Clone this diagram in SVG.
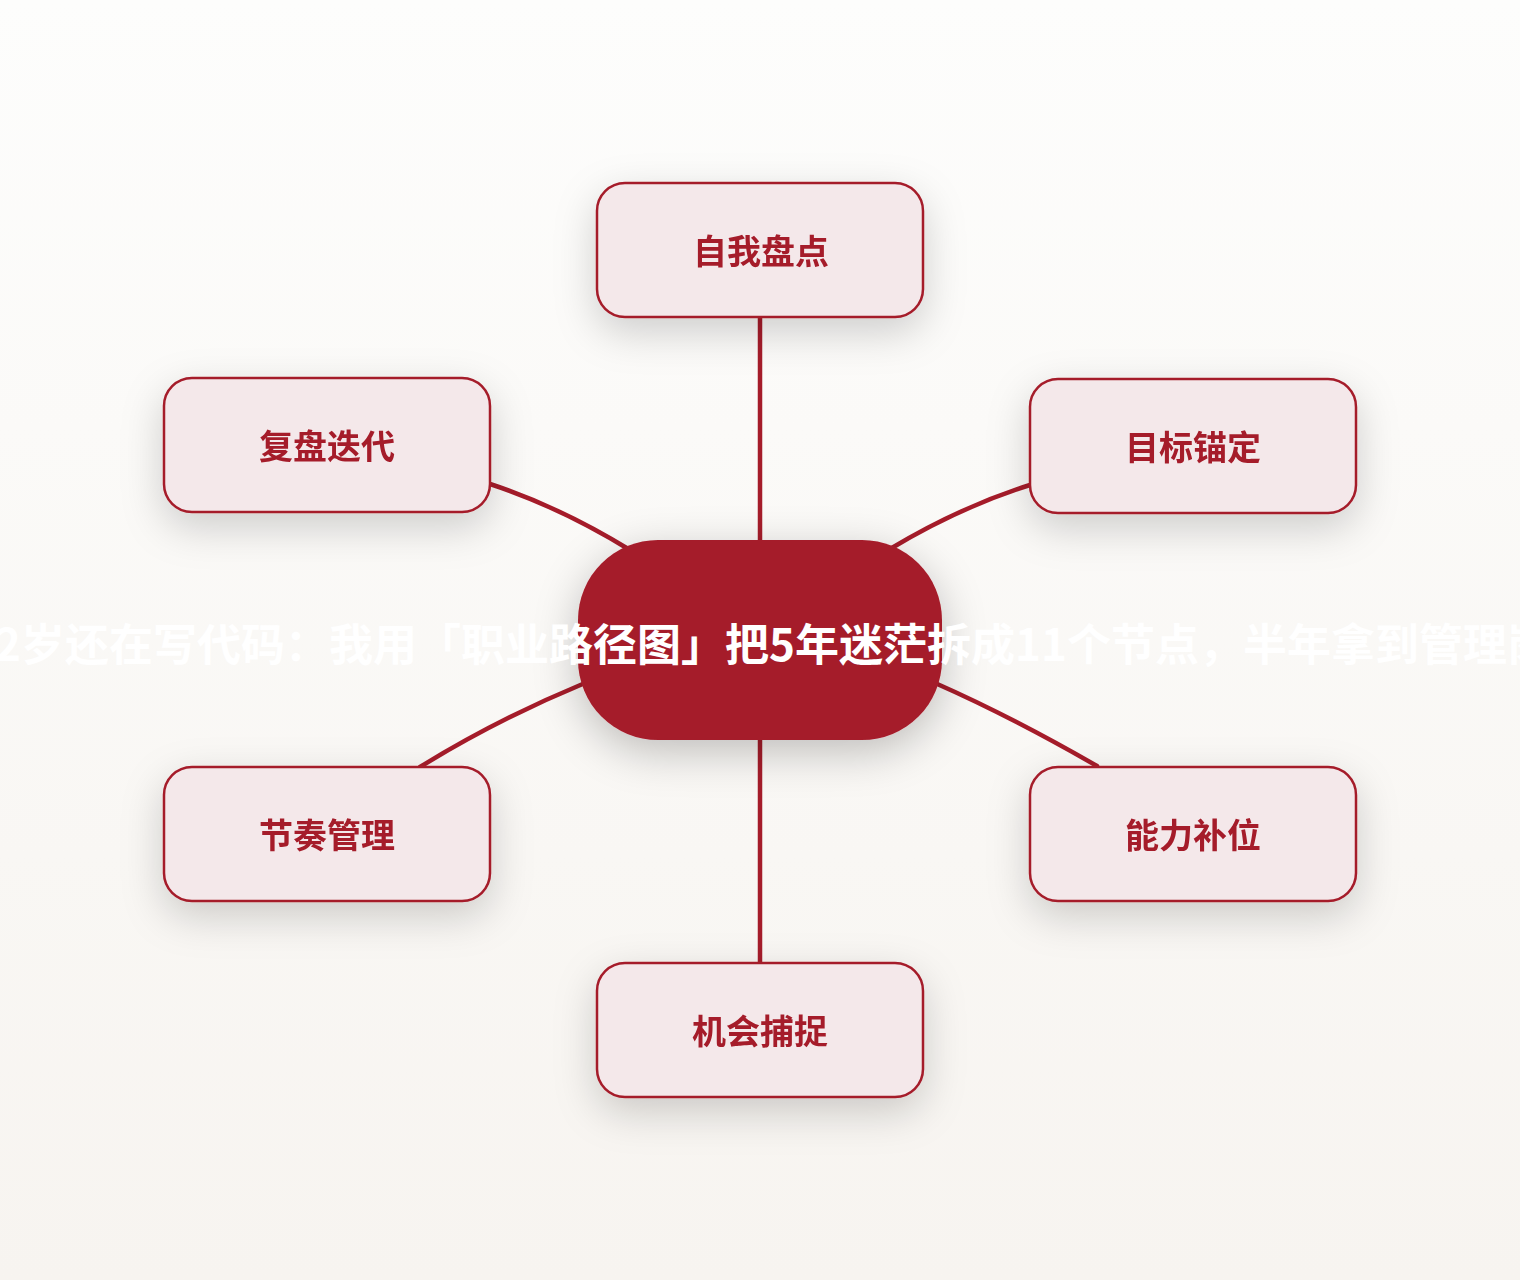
<svg xmlns="http://www.w3.org/2000/svg" width="1520" height="1280" viewBox="0 0 1520 1280">
  <defs>
    <linearGradient id="bg" x1="0" y1="0" x2="0" y2="1">
      <stop offset="0" stop-color="#fdfdfc"/>
      <stop offset="1" stop-color="#f7f4f0"/>
    </linearGradient>
    <filter id="shadow" x="-40%" y="-50%" width="180%" height="220%">
      <feDropShadow dx="0" dy="14" stdDeviation="20" flood-color="#000000" flood-opacity="0.18"/>
    </filter>
    <filter id="shadowC" x="-40%" y="-50%" width="180%" height="220%">
      <feDropShadow dx="0" dy="12" stdDeviation="22" flood-color="#000000" flood-opacity="0.24"/>
    </filter>
  </defs>
  <style>
    .node rect { fill: #f4e8ea; stroke: #a51c2a; stroke-width: 2.5; }
    .node text { fill: #a51c2a; font-family: "Noto Sans CJK SC", "Noto Sans", sans-serif; font-weight: 700; font-size: 34px; text-anchor: middle; }
    .edge { fill: none; stroke: #a51c2a; stroke-width: 4.5; stroke-linecap: round; }
    .center rect { fill: #a51c2a; }
    .center text { fill: #ffffff; font-family: "Noto Sans CJK SC", "Noto Sans", sans-serif; font-weight: 700; font-size: 44px; text-anchor: middle; }
  </style>
  <rect x="0" y="0" width="1520" height="1280" fill="url(#bg)"/>

  <g id="connectors">
    <path class="edge" d="M760 317 L760 540"/>
    <path class="edge" d="M760 740 L760 963"/>
    <path class="edge" d="M490 484 Q560 507 630 550"/>
    <path class="edge" d="M1030 485 Q960 507 890 549"/>
    <path class="edge" d="M585 683 Q498 719 420 767"/>
    <path class="edge" d="M935 683 Q1010 716 1097 766"/>
  </g>

  <g id="node-top" class="node" filter="url(#shadow)">
    <rect x="597" y="183" width="326" height="134" rx="28"/>
    <text x="761" y="264">自我盘点</text>
  </g>
  <g id="node-upper-left" class="node" filter="url(#shadow)">
    <rect x="164" y="378" width="326" height="134" rx="28"/>
    <text x="327" y="459">复盘迭代</text>
  </g>
  <g id="node-upper-right" class="node" filter="url(#shadow)">
    <rect x="1030" y="379" width="326" height="134" rx="28"/>
    <text x="1193" y="460">目标锚定</text>
  </g>
  <g id="node-lower-left" class="node" filter="url(#shadow)">
    <rect x="164" y="767" width="326" height="134" rx="28"/>
    <text x="327" y="848">节奏管理</text>
  </g>
  <g id="node-lower-right" class="node" filter="url(#shadow)">
    <rect x="1030" y="767" width="326" height="134" rx="28"/>
    <text x="1193" y="848">能力补位</text>
  </g>
  <g id="node-bottom" class="node" filter="url(#shadow)">
    <rect x="597" y="963" width="326" height="134" rx="28"/>
    <text x="760" y="1044">机会捕捉</text>
  </g>

  <g id="node-center" class="center">
    <rect x="578" y="540" width="364" height="200" rx="80" filter="url(#shadowC)"/>
    <text x="760" y="661">32岁还在写代码：我用「职业路径图」把5年迷茫拆成11个节点，半年拿到管理岗</text>
  </g>
</svg>
